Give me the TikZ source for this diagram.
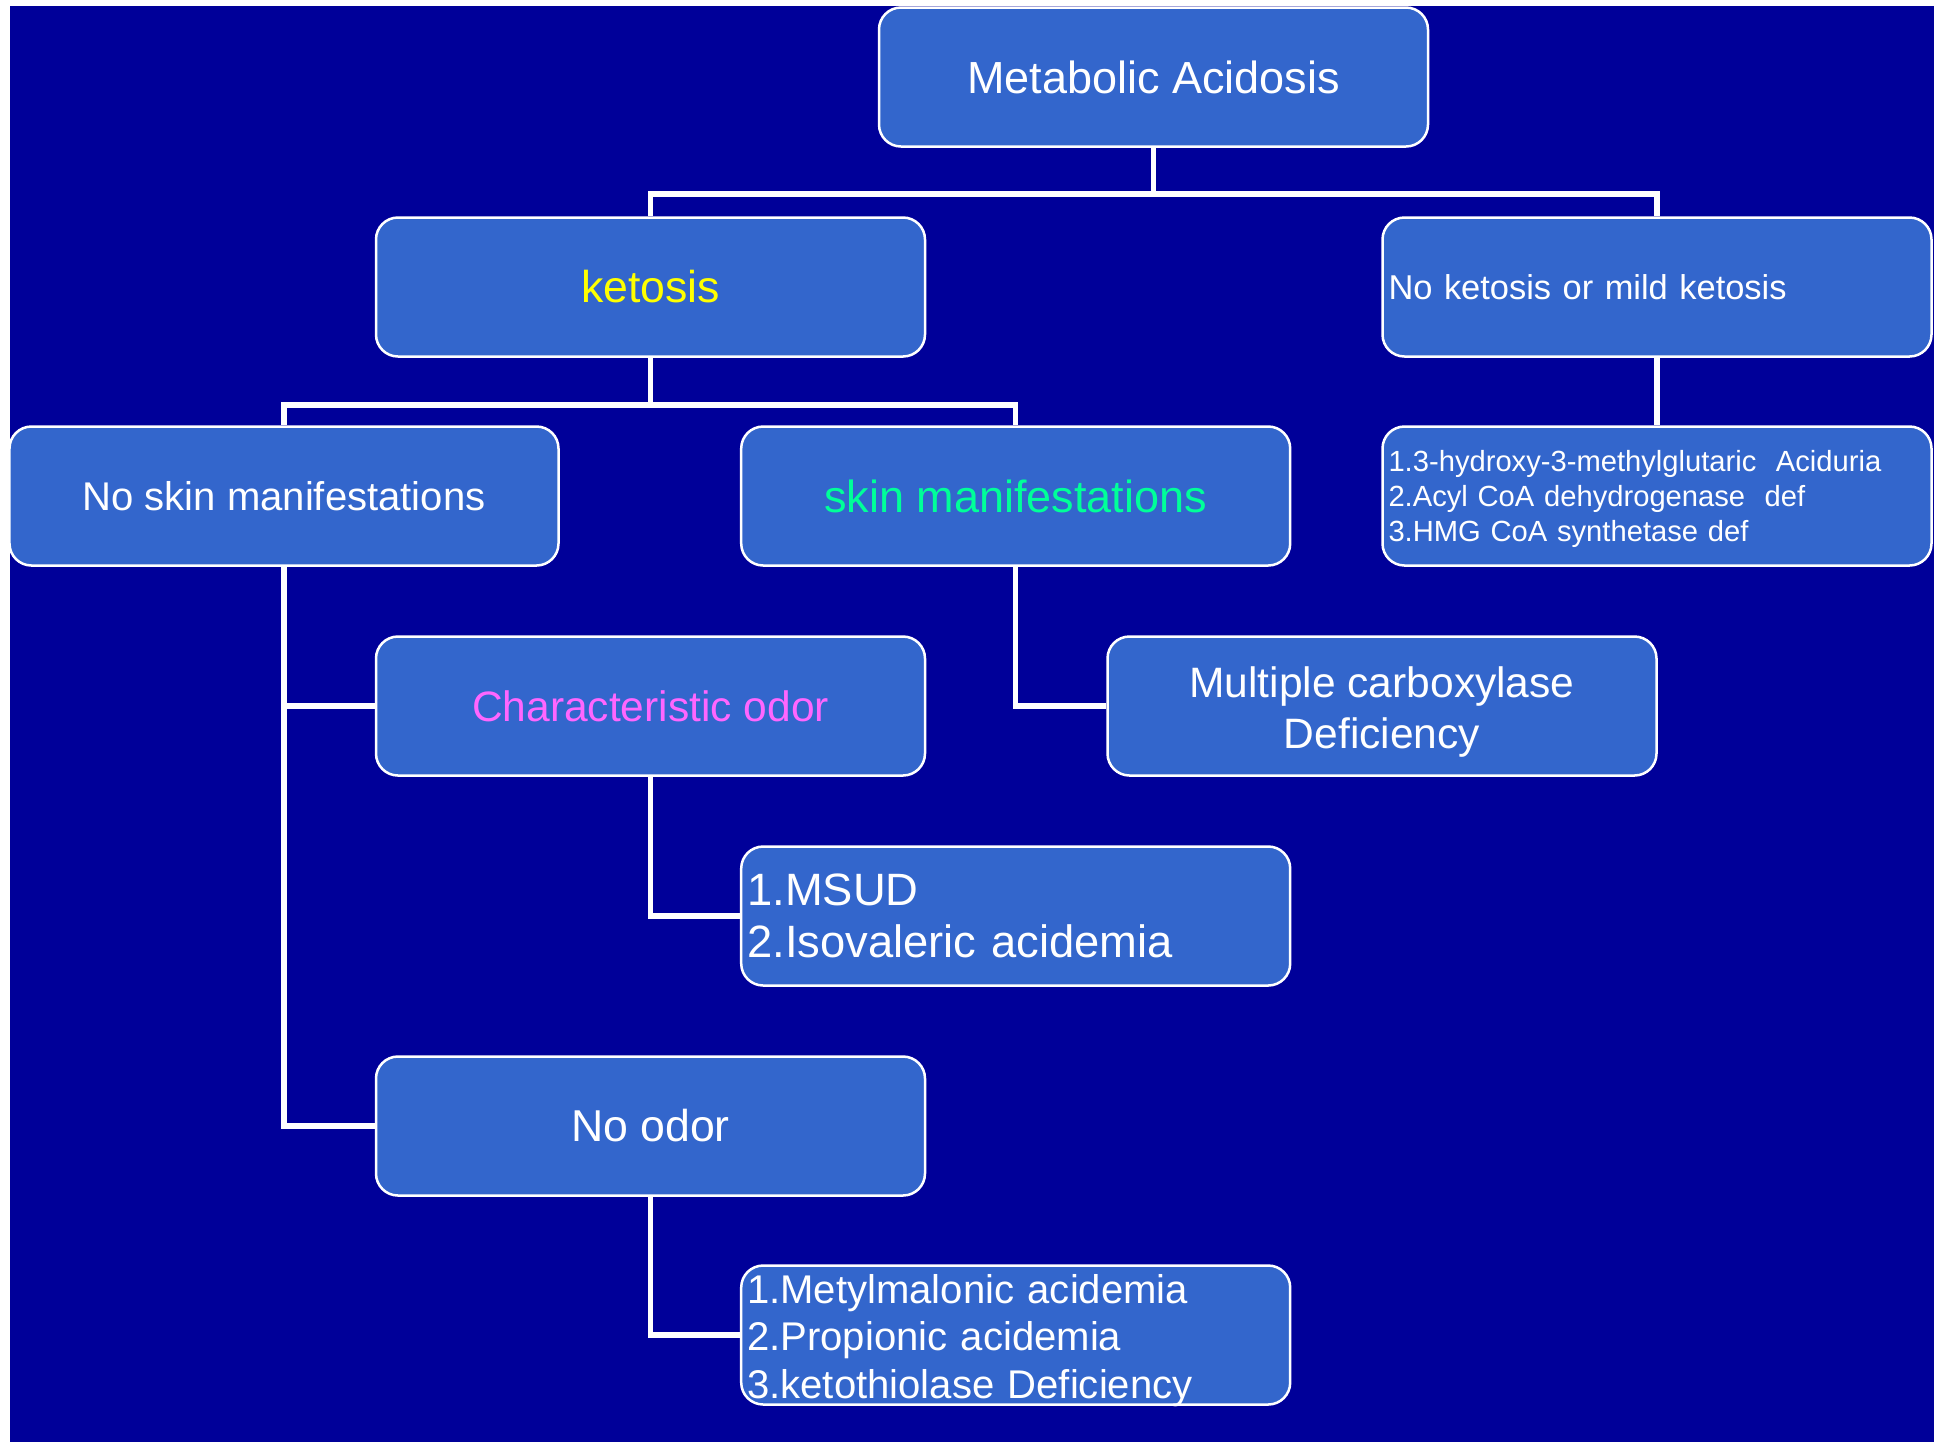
\documentclass[tikz,border=0pt]{standalone}
\usepackage{fontspec}
\setmainfont{Liberation Sans}
\usepackage{tikz}
\definecolor{bgblue}{HTML}{000099}
\definecolor{boxblue}{HTML}{3366CC}
\definecolor{ketoyellow}{HTML}{FFFF00}
\definecolor{skingreen}{HTML}{00FF99}
\definecolor{odorpink}{HTML}{FF66FF}

\begin{document}
\begin{tikzpicture}[box/.style={draw=white,line width=0.025cm,fill=boxblue,rounded corners=0.22cm,minimum width=5.49cm,minimum height=1.39cm,text=white,inner sep=0.06cm}, listbox/.style={box,text width=5.37cm,align=left}, link/.style={white,line width=0.055cm}]
	\useasboundingbox (0,0) rectangle (19.34,-14.42);
	\fill [white] (0,0) rectangle (19.34,-14.42);
	\fill [bgblue] (0.10,-0.06) rectangle (19.34,-14.42);

	\node [box,font=\fontsize{12.8}{15}\selectfont] (meta) at (11.535,-0.77) {Metabolic Acidosis};
	\node [box,text=ketoyellow,font=\fontsize{12.7}{15}\selectfont] (keto) at (6.505,-2.87) {ketosis};
	\node [listbox,font=\fontsize{9.8}{12}\selectfont] (noket) at (16.57,-2.87) {No ketosis or mild ketosis};
	\node [box,font=\fontsize{11.4}{14}\selectfont] (noskin) at (2.84,-4.96) {No skin manifestations};
	\node [box,text=skingreen,font=\fontsize{12.8}{15}\selectfont] (skin) at (10.157,-4.96) {skin manifestations};
	\node [listbox,text height=7pt,text depth=20.9pt,font=\fontsize{8.3}{10}\selectfont] (hmg) at (16.57,-4.96) {1.3-hydroxy-3-methylglutaric~ Aciduria\\2.Acyl CoA dehydrogenase~ def\\3.HMG CoA synthetase def};
	\node [box,text=odorpink,font=\fontsize{12.1}{14.5}\selectfont] (odor) at (6.505,-7.06) {Characteristic odor};
	\node [box,align=center,text height=26.9pt,text depth=3pt,font=\fontsize{12.1}{14.5}\selectfont] (mult) at (13.82,-7.06) {Multiple carboxylase\\Deficiency};
	\node [listbox,font=\fontsize{12.9}{14.8}\selectfont] (msud) at (10.157,-9.16) {1.MSUD\\2.Isovaleric acidemia};
	\node [box,font=\fontsize{12.7}{15}\selectfont] (noodor) at (6.505,-11.26) {No odor};
	\node [listbox,inner ysep=0.01cm,text height=10pt,text depth=28.2pt,font=\fontsize{11.4}{13.6}\selectfont] (acid) at (10.157,-13.35) {1.Metylmalonic acidemia\\2.Propionic acidemia\\3.ketothiolase Deficiency};

	\draw [link] (meta.south) -- ++(0,-0.46) coordinate (m1);
	\draw [link] (keto.north) |- (m1) -| (noket.north);
	\draw [link] (keto.south) -- ++(0,-0.47) coordinate (k1);
	\draw [link] (noskin.north) |- (k1) -| (skin.north);
	\draw [link] (noket.south) -- (hmg.north);
	\draw [link] (noskin.south) |- (odor.west);
	\draw [link] (noskin.south) |- (noodor.west);
	\draw [link] (skin.south) |- (mult.west);
	\draw [link] (odor.south) |- (msud.west);
	\draw [link] (noodor.south) |- (acid.west);
\end{tikzpicture}
\end{document}
